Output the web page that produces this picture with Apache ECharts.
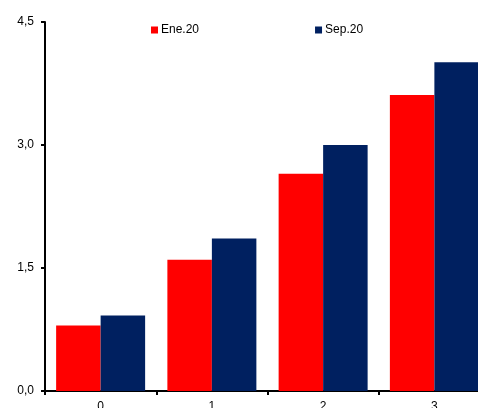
<!DOCTYPE html>
<html><head><meta charset="utf-8">
<script src="https://cdn.jsdelivr.net/npm/echarts@6/dist/echarts.min.js"></script>
<style>html,body{margin:0;padding:0;background:#fff}#c{width:478px;height:408px}</style>
</head><body><div id="c"></div>
<script>
var categories = ['0', '1', '2', '3'];
var ene20 = [0.80, 1.60, 2.65, 3.61];
var sep20 = [0.92, 1.86, 3.00, 4.01];
var yTicks = [0, 1.5, 3, 4.5];

var chart = echarts.init(document.getElementById('c'));
var font = 'Liberation Sans, Arial, sans-serif';
chart.setOption({
  animation: false,
  grid: {left: 45, top: 22, bottom: 17, width: 445, containLabel: false, outerBoundsMode: 'none'},
  legend: {
    data: [
      {name: 'Ene.20', itemStyle: {color: '#ff0000'}},
      {name: 'Sep.20', itemStyle: {color: '#002060'}}
    ],
    top: 19, left: 146, itemWidth: 7, itemHeight: 7, itemGap: 116,
    icon: 'rect',
    textStyle: {fontFamily: font, fontSize: 12, color: '#000', padding: [0, 0, 0, -2]}
  },
  xAxis: {
    type: 'category', data: categories,
    axisLine: {lineStyle: {color: '#000', width: 2}},
    axisTick: {show: true, length: 4, lineStyle: {color: '#000', width: 2}},
    axisLabel: {fontFamily: font, fontSize: 12, color: '#000', margin: 10}
  },
  yAxis: {
    type: 'value', min: yTicks[0], max: yTicks[yTicks.length - 1], interval: yTicks[1] - yTicks[0],
    splitLine: {show: false},
    axisLine: {show: true, lineStyle: {color: '#000', width: 2}},
    axisTick: {show: true, length: 4, lineStyle: {color: '#000', width: 2}},
    axisLabel: {fontFamily: font, fontSize: 12, color: '#000', margin: 11,
      formatter: function (v) { return v.toFixed(1).replace('.', ','); }}
  },
  series: [
    {name: 'Ene.20', type: 'bar', data: ene20, barGap: '0%', barCategoryGap: '20%', itemStyle: {color: '#ff0000'}},
    {name: 'Sep.20', type: 'bar', data: sep20, barGap: '0%', barCategoryGap: '20%', itemStyle: {color: '#002060'}}
  ]
});
</script></body></html>
